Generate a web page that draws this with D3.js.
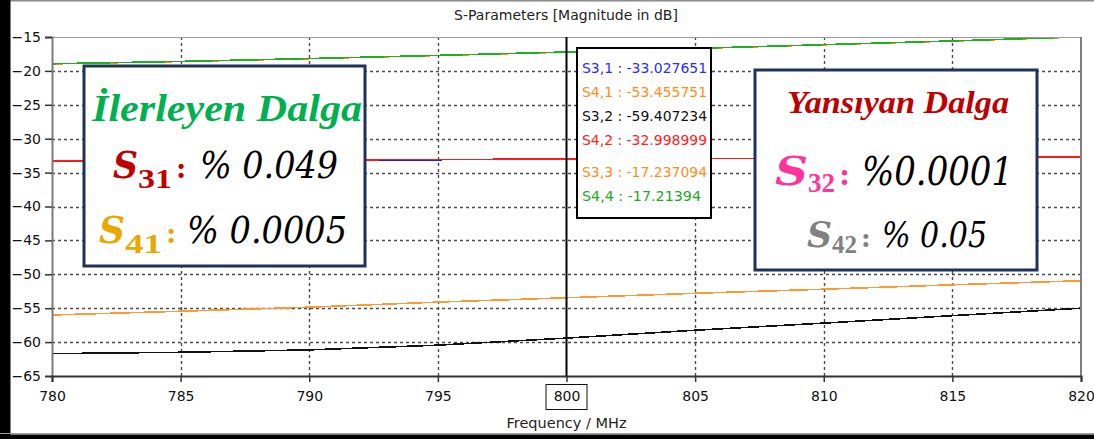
<!DOCTYPE html>
<html>
<head>
<meta charset="utf-8">
<script src="https://cdn.jsdelivr.net/npm/d3@7"></script>
<style>
  html, body { margin: 0; padding: 0; background: #fff; }
  svg { display: block; }
</style>
</head>
<body>
<svg id="chart" width="1094" height="439"></svg>
<script>
// Frequency sweep (MHz) and S-parameter magnitudes (dB)
const freq = [780, 785, 790, 795, 800, 805, 810, 815, 820];
const s31 = [-33.31, -33.23, -33.16, -33.10, -33.03, -32.96, -32.89, -32.79, -32.71];
const s41 = [-56.0, -55.45, -54.85, -54.1, -53.46, -52.8, -52.2, -51.55, -50.95];
const s32 = [-61.7, -61.5, -61.15, -60.45, -59.41, -58.25, -57.2, -56.1, -55.0];
const s42 = [-33.28, -33.2, -33.13, -33.07, -33.0, -32.93, -32.85, -32.77, -32.67];
const s33 = [-18.97, -18.62, -18.2, -17.73, -17.24, -16.7, -16.15, -15.6, -15.0];
const s44 = [-18.95, -18.6, -18.18, -17.71, -17.21, -16.68, -16.13, -15.58, -14.98];

const xTicks = [780, 785, 790, 795, 800, 805, 810, 815, 820];
const yTicks = [-15, -20, -25, -30, -35, -40, -45, -50, -55, -60, -65];

// Marker readout at 800 MHz
const markerFreq = 800;
const readoutNames = ["S3,1", "S4,1", "S3,2", "S4,2", "S3,3", "S4,4"];
const readoutValues = ["-33.027651", "-53.455751", "-59.407234", "-32.998999", "-17.237094", "-17.21394"];

const svg = d3.select("#chart");
const W = 1094, H = 439;
const plot = { left: 52, right: 1081, top: 37, bottom: 376 };

const x = d3.scaleLinear().domain([780, 820]).range([plot.left, plot.right]);
const y = d3.scaleLinear().domain([-65, -15]).range([plot.bottom, plot.top]);

// window frame
svg.append("rect").attr("x", 0).attr("y", 0).attr("width", W).attr("height", H).attr("fill", "#fff");
svg.append("rect").attr("x", 0).attr("y", 0).attr("width", W).attr("height", 1.5).attr("fill", "#8a8a8a");
svg.append("rect").attr("x", 0).attr("y", 0).attr("width", 10.5).attr("height", H).attr("fill", "#000");
svg.append("rect").attr("x", 0).attr("y", 433).attr("width", W).attr("height", 1).attr("fill", "#9a9a9a");
svg.append("rect").attr("x", 0).attr("y", 434.5).attr("width", W).attr("height", H - 434.5).attr("fill", "#000");

// title
svg.append("text")
  .attr("x", 566).attr("y", 20)
  .attr("text-anchor", "middle")
  .attr("font-family", "DejaVu Sans")
  .attr("font-size", 14)
  .attr("fill", "#222")
  .text("S-Parameters [Magnitude in dB]");

// grid lines
const grid = svg.append("g").attr("class", "grid");
grid.selectAll("line.h")
  .data(yTicks.filter(v => v !== -15 && v !== -65))
  .join("line")
  .attr("x1", plot.left).attr("x2", plot.right)
  .attr("y1", d => Math.round(y(d)) + 0.5).attr("y2", d => Math.round(y(d)) + 0.5)
  .attr("stroke", "#4a4a4a").attr("stroke-width", 1.4).attr("stroke-dasharray", "3,3");
grid.selectAll("line.v")
  .data(xTicks.filter(v => v !== 780 && v !== 820 && v !== markerFreq))
  .join("line")
  .attr("y1", plot.top).attr("y2", plot.bottom)
  .attr("x1", d => Math.round(x(d)) + 0.5).attr("x2", d => Math.round(x(d)) + 0.5)
  .attr("stroke", "#4a4a4a").attr("stroke-width", 1.4).attr("stroke-dasharray", "3,3");

// clip for traces
svg.append("clipPath").attr("id", "plotClip")
  .append("rect").attr("x", plot.left).attr("y", plot.top)
  .attr("width", plot.right - plot.left).attr("height", plot.bottom - plot.top);

const line = d3.line().x((d, i) => x(freq[i])).y(d => y(d));
const traces = [
  { vals: s33, color: "#ff8c1a" },
  { vals: s44, color: "#1fb01f" },
  { vals: s31, color: "#1a1aff" },
  { vals: s42, color: "#ff1a1a" },
  { vals: s41, color: "#ff9a33" },
  { vals: s32, color: "#111111" }
];
const tg = svg.append("g").attr("clip-path", "url(#plotClip)");
tg.selectAll("path")
  .data(traces)
  .join("path")
  .attr("d", d => line(d.vals))
  .attr("fill", "none")
  .attr("stroke", d => d.color)
  .attr("stroke-width", 1.6)
  .attr("shape-rendering", "crispEdges");

// plot frame
svg.append("line").attr("x1", plot.left).attr("x2", plot.right).attr("y1", plot.top + 0.5).attr("y2", plot.top + 0.5)
  .attr("stroke", "#9a9a9a").attr("stroke-width", 1);
svg.append("line").attr("x1", plot.right).attr("x2", plot.right).attr("y1", plot.top).attr("y2", plot.bottom)
  .attr("stroke", "#808080").attr("stroke-width", 2);

// axes
const yAxis = svg.append("g")
  .attr("transform", `translate(${plot.left},0)`)
  .call(d3.axisLeft(y).tickValues(yTicks).tickSize(7).tickPadding(4).tickFormat(d3.format("d")));
yAxis.select(".domain").attr("stroke", "#7a7a7a").attr("stroke-width", 2);
yAxis.selectAll(".tick line").attr("stroke", "#333").attr("stroke-width", 1.5);
yAxis.selectAll(".tick text")
  .attr("font-family", "DejaVu Sans").attr("font-size", 14).attr("fill", "#111");

const xAxis = svg.append("g")
  .attr("transform", `translate(0,${plot.bottom})`)
  .call(d3.axisBottom(x).tickValues(xTicks).tickSize(6).tickPadding(9).tickFormat(d3.format("d")));
xAxis.select(".domain").attr("stroke", "#333").attr("stroke-width", 2);
xAxis.selectAll(".tick line").attr("stroke", "#333").attr("stroke-width", 1.5);
xAxis.selectAll(".tick text")
  .attr("font-family", "DejaVu Sans").attr("font-size", 14).attr("fill", "#111");

// boxed marker tick label
const mx = x(markerFreq);
svg.append("rect")
  .attr("x", mx - 20.5).attr("y", 384.5).attr("width", 41).attr("height", 25)
  .attr("fill", "none").attr("stroke", "#111").attr("stroke-width", 1);

// x axis title
svg.append("text")
  .attr("x", mx).attr("y", 428)
  .attr("text-anchor", "middle")
  .attr("font-family", "DejaVu Sans").attr("font-size", 14.5).attr("fill", "#222")
  .text("Frequency / MHz");

// marker line
svg.append("line")
  .attr("x1", mx).attr("x2", mx).attr("y1", plot.top).attr("y2", plot.bottom)
  .attr("stroke", "#000").attr("stroke-width", 2);

// marker readout box
const readoutColors = ["#2b2bff", "#ff8c1a", "#111111", "#ff2020", "#ff8c1a", "#22a822"];
const readoutBaselines = [73, 97, 121, 145, 177, 201];
svg.append("rect")
  .attr("x", 577).attr("y", 48).attr("width", 134).attr("height", 170)
  .attr("fill", "#fff").attr("stroke", "#000").attr("stroke-width", 2);
svg.append("g").selectAll("text")
  .data(readoutNames)
  .join("text")
  .attr("x", 582)
  .attr("y", (d, i) => readoutBaselines[i])
  .attr("font-family", "DejaVu Sans").attr("font-size", 14)
  .attr("fill", (d, i) => readoutColors[i])
  .attr("lengthAdjust", "spacingAndGlyphs")
  .attr("textLength", (d, i) => i === 5 ? 119 : 125)
  .text((d, i) => `${d} : ${readoutValues[i]}`);

// annotation panels
function panel(bx, by, bw, bh) {
  svg.append("rect")
    .attr("x", bx).attr("y", by).attr("width", bw).attr("height", bh)
    .attr("fill", "#fff").attr("stroke", "#1f3358").attr("stroke-width", 3);
}
function heading(txt, x0, x1, base, size, color) {
  svg.append("text")
    .attr("x", x0).attr("y", base)
    .attr("font-family", "Liberation Serif").attr("font-weight", "bold").attr("font-style", "italic")
    .attr("font-size", size).attr("fill", color)
    .attr("textLength", x1 - x0).attr("lengthAdjust", "spacingAndGlyphs")
    .text(txt);
}
function sEntry(o) {
  // symbol S
  svg.append("text")
    .attr("x", o.sx).attr("y", o.base)
    .attr("font-family", "DejaVu Serif").attr("font-weight", "bold").attr("font-style", "italic")
    .attr("font-size", o.size).attr("fill", o.color)
    .attr("textLength", o.subX - o.sx).attr("lengthAdjust", "spacingAndGlyphs")
    .text("S");
  // subscript indices
  svg.append("text")
    .attr("x", o.subX).attr("y", o.subBase)
    .attr("font-family", "Liberation Serif").attr("font-weight", "bold")
    .attr("font-size", o.subSize).attr("fill", o.color)
    .attr("textLength", o.subEnd - o.subX).attr("lengthAdjust", "spacingAndGlyphs")
    .text(o.sub);
  // colon
  svg.append("text")
    .attr("x", o.subEnd + 4).attr("y", o.base)
    .attr("font-family", "DejaVu Serif").attr("font-weight", "bold")
    .attr("font-size", o.size * 0.75).attr("fill", o.color)
    .text(":");
  // percentage value
  svg.append("text")
    .attr("x", o.vx).attr("y", o.base)
    .attr("font-family", "DejaVu Serif").attr("font-style", "italic")
    .attr("font-size", o.vsize).attr("fill", "#000")
    .attr("textLength", o.vEnd - o.vx).attr("lengthAdjust", "spacingAndGlyphs")
    .text(o.value);
}

// forward wave panel
panel(84, 66, 281, 200);
heading("İlerleyen Dalga", 92, 362, 121, 37, "#00b050");
sEntry({ sx: 113, subX: 138, subEnd: 172, sub: "31", base: 178, subBase: 188, size: 37, subSize: 28,
         color: "#c00000", vx: 200, vEnd: 338, vsize: 37, value: "% 0.049" });
sEntry({ sx: 99, subX: 125, subEnd: 162, sub: "41", base: 243, subBase: 253, size: 37, subSize: 28,
         color: "#e8a800", vx: 187, vEnd: 347, vsize: 37, value: "% 0.0005" });

// reflected wave panel
panel(755, 70, 282, 200);
heading("Yansıyan Dalga", 787, 1009, 113, 31, "#c00000");
sEntry({ sx: 775, subX: 808, subEnd: 835, sub: "32", base: 185, subBase: 192, size: 40, subSize: 27,
         color: "#ff3399", vx: 862, vEnd: 1013, vsize: 40, value: "%0.0001" });
sEntry({ sx: 807, subX: 832, subEnd: 857, sub: "42", base: 247, subBase: 253, size: 35, subSize: 25,
         color: "#808080", vx: 882, vEnd: 987, vsize: 35, value: "% 0.05" });
</script>
</body>
</html>
